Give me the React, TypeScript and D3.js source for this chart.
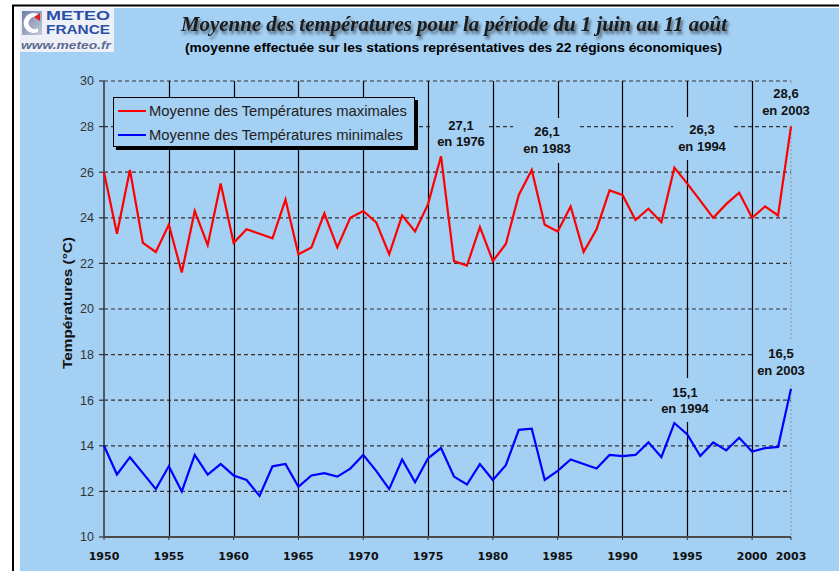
import React from 'react';
import * as d3 from 'd3';

const firstYear = 1950;
const lastYear = 2003;
const xTickYears = [1950, 1955, 1960, 1965, 1970, 1975, 1980, 1985, 1990, 1995, 2000, 2003];
const yTicks = [10, 12, 14, 16, 18, 20, 22, 24, 26, 28, 30];

const maxTemps = [
  26.0, 23.3, 26.1, 22.9, 22.5, 23.7, 21.6, 24.3, 22.8, 25.5,
  22.9, 23.5, 23.3, 23.1, 24.8, 22.4, 22.7, 24.2, 22.7, 24.0,
  24.3, 23.8, 22.4, 24.1, 23.4, 24.6, 26.7, 22.1, 21.9, 23.6,
  22.1, 22.85, 25.0, 26.1, 23.7, 23.4, 24.5, 22.5, 23.5, 25.2,
  25.0, 23.9, 24.4, 23.8, 26.2, 25.5, 24.75, 24.0, 24.6, 25.1,
  24.0, 24.5, 24.1, 28.0,
];

const minTemps = [
  14.0, 12.74, 13.5, 12.8, 12.1, 13.1, 12.0, 13.6, 12.74, 13.2,
  12.7, 12.5, 11.8, 13.1, 13.2, 12.2, 12.7, 12.8, 12.65, 13.0,
  13.6, 12.9, 12.1, 13.4, 12.4, 13.45, 13.9, 12.65, 12.3, 13.2,
  12.5, 13.15, 14.7, 14.75, 12.5, 12.9, 13.4, 13.2, 13.0, 13.6,
  13.55, 13.6, 14.15, 13.5, 15.0, 14.5, 13.55, 14.15, 13.8, 14.35,
  13.75, 13.9, 13.95, 16.5,
];

const seriesNames = [
  'Moyenne des Températures maximales',
  'Moyenne des Températures minimales',
];

const annotationValues = ['27,1', '26,1', '26,3', '28,6', '15,1', '16,5'];
const annotationYears = ['en 1976', 'en 1983', 'en 1994', 'en 2003', 'en 1994', 'en 2003'];

const title = 'Moyenne des températures pour la période du 1 juin au 11 août';
const subtitle = '(moyenne effectuée sur les stations représentatives des 22 régions économiques)';
const yTitle = 'Températures (°C)';

const BG = '#a4d0f4';

// layout for annotations: center x, baseline of first line, box [x0,y0,x1,y1]
const annLayout = [
  { cx: 461, by: 129.5, box: [433, 112, 489, 151] },
  { cx: 547, by: 136, box: [513, 118, 578, 163] },
  { cx: 702, by: 134, box: [673, 117, 732, 160] },
  { cx: 786, by: 98, box: [764, 84, 808, 125] },
  { cx: 685, by: 396.5, box: [652, 378, 716, 422] },
  { cx: 781, by: 358, box: [755, 340, 808, 384] },
];

export default function App() {
  const W = 839, H = 571;
  const x = d3.scaleLinear().domain([firstYear, lastYear]).range([104, 791]);
  const y = d3.scaleLinear().domain([10, 30]).range([537, 81]);
  const line = d3.line<number>()
    .x((_, i) => x(firstYear + i))
    .y((d) => y(d));

  const gridYears = xTickYears.filter((yr) => yr !== firstYear && yr !== lastYear);

  return (
    <div style={{ position: 'fixed', left: 0, top: 0 }}>
      <svg width={W} height={H} style={{ display: 'block' }}>
        <defs>
          <filter id="tshadow" x="-5%" y="-50%" width="110%" height="200%">
            <feGaussianBlur in="SourceAlpha" stdDeviation="1.6" />
            <feOffset dx="2" dy="3" result="b" />
            <feComponentTransfer><feFuncA type="linear" slope="0.55" /></feComponentTransfer>
            <feMerge><feMergeNode /><feMergeNode in="SourceGraphic" /></feMerge>
          </filter>
          <linearGradient id="logoGrad" x1="0" y1="0" x2="1" y2="1">
            <stop offset="0" stopColor="#6f7fa6" />
            <stop offset="1" stopColor="#c4cbdc" />
          </linearGradient>
        </defs>
        <rect x={0} y={0} width={W} height={H} fill="#ffffff" />
        <rect x={20} y={8} width={W - 20} height={H - 8} fill={BG} />
        <line x1={12} y1={5.5} x2={W} y2={5.5} stroke="#000" strokeWidth={2} />
        <line x1={13} y1={5} x2={13} y2={H} stroke="#000" strokeWidth={2} />

        {/* logo */}
        <g>
          <rect x={20} y={8} width={94} height={44} fill="#edf1f7" />
          <rect x={22} y={11} width={20} height={24} fill="url(#logoGrad)" />
          <path d="M38,14 A10,10 0 1 0 38,32 L38,28 A6,6 0 1 1 38,18 Z" fill="#ffffff" />
          <path d="M34,17 L40,13 L40,21 Z" fill="#e02020" />
          <text x={46} y={20} fontFamily="Liberation Sans, Arial, sans-serif" fontWeight="bold" fontSize={12} fill="#2b4ea6" textLength={64} lengthAdjust="spacingAndGlyphs">METEO</text>
          <text x={46} y={34} fontFamily="Liberation Sans, Arial, sans-serif" fontWeight="bold" fontSize={12} fill="#2b4ea6" textLength={64} lengthAdjust="spacingAndGlyphs">FRANCE</text>
          <text x={21} y={49} fontFamily="Liberation Sans, Arial, sans-serif" fontWeight="bold" fontStyle="italic" fontSize={11.5} fill="#5b6b8f" textLength={90} lengthAdjust="spacingAndGlyphs">www.meteo.fr</text>
        </g>

        {/* titles */}
        <text x={454} y={31} textAnchor="middle" fontFamily="Liberation Serif, Times New Roman, serif" fontWeight="bold" fontStyle="italic" fontSize={21} fill="#1a1a1a" filter="url(#tshadow)" textLength={546} lengthAdjust="spacingAndGlyphs">{title}</text>
        <text x={453.5} y={52} textAnchor="middle" fontFamily="Liberation Sans, Arial, sans-serif" fontWeight="bold" fontSize={12.5} fill="#000" textLength={537} lengthAdjust="spacingAndGlyphs">{subtitle}</text>

        {/* horizontal dashed grid */}
        {yTicks.filter((t) => t !== 10).map((t) => (
          <line key={'h' + t} x1={104} x2={791} y1={y(t)} y2={y(t)} stroke="#333" strokeWidth={1.2} strokeDasharray="4,3" />
        ))}
        {/* vertical solid grid */}
        {gridYears.map((yr) => (
          <line key={'v' + yr} x1={Math.round(x(yr)) + 0.5} x2={Math.round(x(yr)) + 0.5} y1={81} y2={537} stroke="#000" strokeWidth={1.2} />
        ))}
        {/* right border dotted */}
        <line x1={x(lastYear)} x2={x(lastYear)} y1={81} y2={537} stroke="#9aa8b8" strokeWidth={1.5} strokeDasharray="2,2" />

        {/* y axis */}
        <line x1={104} x2={104} y1={81} y2={537} stroke="#333" strokeWidth={1.5} />
        {yTicks.map((t) => (
          <g key={'yt' + t}>
            <line x1={99} x2={104} y1={y(t)} y2={y(t)} stroke="#333" strokeWidth={1.2} />
            <text x={94} y={y(t) + 4.3} textAnchor="end" fontFamily="Liberation Sans, Arial, sans-serif" fontSize={12.5} fill="#333">{t}</text>
          </g>
        ))}
        {/* x axis */}
        <line x1={104} x2={791} y1={537} y2={537} stroke="#4a4a4a" strokeWidth={2} />
        {xTickYears.map((yr) => (
          <g key={'xt' + yr}>
            <line x1={x(yr)} x2={x(yr)} y1={537} y2={540} stroke="#333" strokeWidth={1} />
            <text x={x(yr)} y={560} textAnchor="middle" fontFamily="DejaVu Sans, Verdana, sans-serif" fontWeight="bold" fontSize={11} fill="#111">{yr}</text>
          </g>
        ))}
        <text transform={`translate(72,303) rotate(-90)`} textAnchor="middle" fontFamily="Liberation Sans, Arial, sans-serif" fontWeight="bold" fontSize={12.5} fill="#111" textLength={132} lengthAdjust="spacingAndGlyphs">{yTitle}</text>

        {/* annotation boxes hiding grid */}
        {annLayout.map((a, i) => (
          <rect key={'ab' + i} x={a.box[0]} y={a.box[1]} width={a.box[2] - a.box[0]} height={a.box[3] - a.box[1]} fill={BG} />
        ))}

        {/* series */}
        <path d={line(maxTemps) || ''} fill="none" stroke="#ff0000" strokeWidth={2.2} strokeLinejoin="miter" />
        <path d={line(minTemps) || ''} fill="none" stroke="#0000ff" strokeWidth={2.2} strokeLinejoin="miter" />

        {/* annotations */}
        {annLayout.map((a, i) => (
          <g key={'at' + i} fontFamily="Liberation Sans, Arial, sans-serif" fontWeight="bold" fontSize={13} fill="#111" textAnchor="middle">
            <text x={a.cx} y={a.by}>{annotationValues[i]}</text>
            <text x={a.cx} y={a.by + 16.5}>{annotationYears[i]}</text>
          </g>
        ))}

        {/* legend */}
        <rect x={116} y={100} width={302} height={50} fill="#000" />
        <rect x={113.5} y={97.5} width={301} height={49} fill={BG} stroke="#000" strokeWidth={1} />
        <line x1={118} x2={146} y1={111} y2={111} stroke="#ff0000" strokeWidth={2} />
        <line x1={118} x2={146} y1={135} y2={135} stroke="#0000ff" strokeWidth={2} />
        <text x={149} y={116} fontFamily="Liberation Sans, Arial, sans-serif" fontSize={14.8} fill="#222">{seriesNames[0]}</text>
        <text x={149} y={140} fontFamily="Liberation Sans, Arial, sans-serif" fontSize={14.8} fill="#222">{seriesNames[1]}</text>
      </svg>
    </div>
  );
}
